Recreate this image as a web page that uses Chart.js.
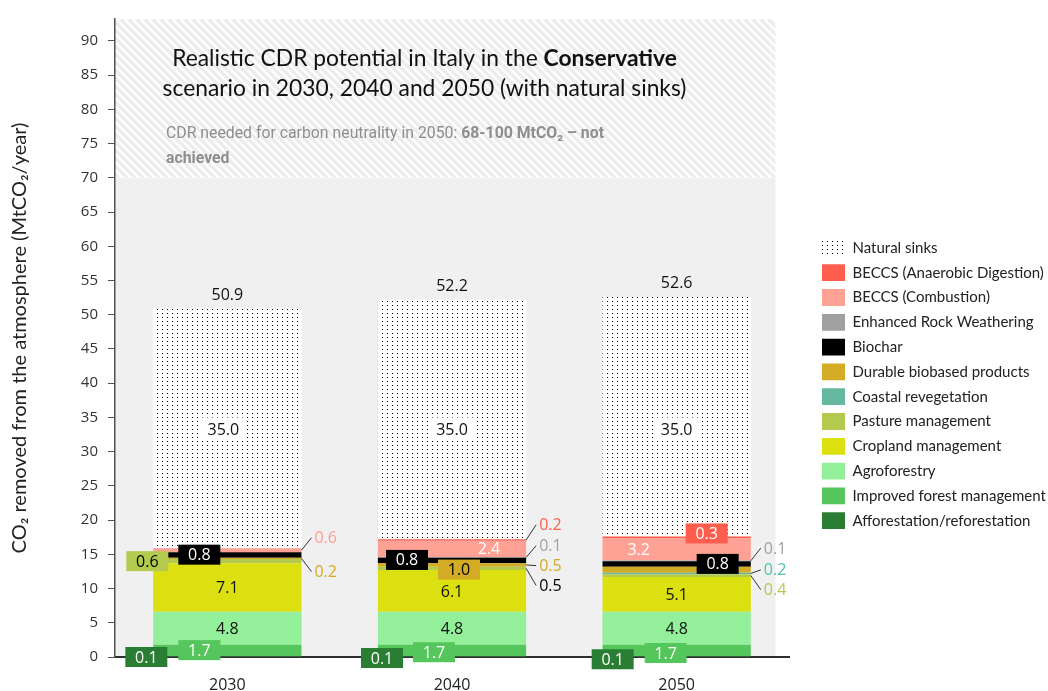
<!DOCTYPE html>
<html><head><meta charset="utf-8">
<script src="https://cdn.jsdelivr.net/npm/chart.js@4.4.1/dist/chart.umd.min.js"></script>
<style>html,body{margin:0;padding:0;background:#fff;}#wrap{width:1048px;height:691px;position:relative;}</style>
</head><body><div id="wrap"><canvas id="c" width="1048" height="691"></canvas></div>
<script>
// ---------------- DATA ----------------
const years = ['2030', '2040', '2050'];
const afforestation = [0.1, 0.1, 0.1];
const improvedForest = [1.7, 1.7, 1.7];
const agroforestry = [4.8, 4.8, 4.8];
const cropland = [7.1, 6.1, 5.1];
const pasture = [0.6, 0.5, 0.4];
const coastal = [0, 0, 0.2];
const durable = [0.2, 0.5, 0.9];
const biochar = [0.8, 0.8, 0.8];
const rockWeathering = [0, 0.1, 0.1];
const beccsCombustion = [0.6, 2.4, 3.2];
const beccsAnaerobic = [0, 0.2, 0.3];
const naturalSinks = [35.0, 35.0, 35.0];
const totals = [50.9, 52.2, 52.6];
const durableBoxValue2040 = 1.0;
const yTickValues = [0, 5, 10, 15, 20, 25, 30, 35, 40, 45, 50, 55, 60, 65, 70, 75, 80, 85, 90];
const targetBand = 70;

const titleLines = [
  [{t: 'Realistic CDR potential in Italy in the ', b: false}, {t: 'Conservative', b: true}],
  [{t: 'scenario in 2030, 2040 and 2050 (with natural sinks)', b: false}]
];
const noteLines = [
  [{t: 'CDR needed for carbon neutrality in 2050: ', b: false}, {t: '68-100 MtCO\u2082 \u2013 not', b: true}],
  [{t: 'achieved', b: true}]
];
const yTitle = 'CO\u2082 removed from the atmosphere (MtCO\u2082/year)';

// ---------------- STYLE ----------------
const COL = {
  affor: '#2A7E34', ifm: '#55C65B', agro: '#93EF99', crop: '#DCE011', pasture: '#B3CA4F',
  coastal: '#66B9A0', durable: '#D4AB24', biochar: '#000000', erw: '#A0A0A0',
  comb: '#FFA194', ad: '#FF5E4E'
};

function dotPattern() {
  const c = document.createElement('canvas');
  c.width = 5; c.height = 4;
  const g = c.getContext('2d');
  g.fillStyle = '#ffffff'; g.fillRect(0, 0, 5, 4);
  g.fillStyle = '#000000'; g.fillRect(2, 1, 1, 1);
  return g.createPattern(c, 'repeat');
}

const series = [
  {id: 'affor', label: 'Afforestation/reforestation', data: afforestation, color: COL.affor},
  {id: 'ifm', label: 'Improved forest management', data: improvedForest, color: COL.ifm},
  {id: 'agro', label: 'Agroforestry', data: agroforestry, color: COL.agro},
  {id: 'crop', label: 'Cropland management', data: cropland, color: COL.crop},
  {id: 'pasture', label: 'Pasture management', data: pasture, color: COL.pasture},
  {id: 'coastal', label: 'Coastal revegetation', data: coastal, color: COL.coastal},
  {id: 'durable', label: 'Durable biobased products', data: durable, color: COL.durable},
  {id: 'biochar', label: 'Biochar', data: biochar, color: COL.biochar},
  {id: 'erw', label: 'Enhanced Rock Weathering', data: rockWeathering, color: COL.erw},
  {id: 'comb', label: 'BECCS (Combustion)', data: beccsCombustion, color: COL.comb},
  {id: 'ad', label: 'BECCS (Anaerobic Digestion)', data: beccsAnaerobic, color: COL.ad},
  {id: 'nat', label: 'Natural sinks', data: naturalSinks, color: dotPattern()}
];

// label placement (dx in px from bar centre, y in axis units)
const labelLayout = [
  {s: 'affor', yr: 0, kind: 'box', dx: -81, y: 0.0, fg: '#fff'},
  {s: 'ifm', yr: 0, kind: 'box', dx: -28, y: 1.0, fg: '#fff'},
  {s: 'agro', yr: 0, kind: 'mid'},
  {s: 'crop', yr: 0, kind: 'mid'},
  {s: 'pasture', yr: 0, kind: 'box', dx: -80, y: 14.0, fg: '#000'},
  {s: 'biochar', yr: 0, kind: 'box', dx: -28, y: 14.95, fg: '#fff'},
  {s: 'durable', yr: 0, kind: 'out', y: 12.48, fg: '#D4AB24'},
  {s: 'comb', yr: 0, kind: 'out', y: 17.42, fg: '#FF9E90'},
  {s: 'nat', yr: 0, kind: 'mid', y: 33.3, dx: -4, bg: '#fff'},

  {s: 'affor', yr: 1, kind: 'box', dx: -70, y: -0.15, fg: '#fff'},
  {s: 'ifm', yr: 1, kind: 'box', dx: -18, y: 0.7, fg: '#fff'},
  {s: 'agro', yr: 1, kind: 'mid'},
  {s: 'crop', yr: 1, kind: 'mid'},
  {s: 'pasture', yr: 1, kind: 'out', y: 10.45, fg: '#000'},
  {s: 'durable', yr: 1, kind: 'out', y: 13.35, fg: '#D4AB24'},
  {s: 'durable', yr: 1, kind: 'box', dx: 7, y: 12.77, fg: '#000', value: durableBoxValue2040},
  {s: 'biochar', yr: 1, kind: 'box', dx: -45, y: 14.18, fg: '#fff'},
  {s: 'erw', yr: 1, kind: 'out', y: 16.26, fg: '#A0A0A0'},
  {s: 'comb', yr: 1, kind: 'mid', dx: 37, fg: '#fff'},
  {s: 'ad', yr: 1, kind: 'out', y: 19.31, fg: '#FF5E4E'},
  {s: 'nat', yr: 1, kind: 'mid', y: 33.3, bg: '#fff'},

  {s: 'affor', yr: 2, kind: 'box', dx: -64, y: -0.33, fg: '#fff'},
  {s: 'ifm', yr: 2, kind: 'box', dx: -11, y: 0.58, fg: '#fff'},
  {s: 'agro', yr: 2, kind: 'mid'},
  {s: 'crop', yr: 2, kind: 'mid'},
  {s: 'pasture', yr: 2, kind: 'out', y: 9.83, fg: '#B3CA4F'},
  {s: 'coastal', yr: 2, kind: 'out', y: 12.73, fg: '#4CC4AE'},
  {s: 'biochar', yr: 2, kind: 'box', dx: 41, y: 13.6, fg: '#fff'},
  {s: 'erw', yr: 2, kind: 'out', y: 15.92, fg: '#A0A0A0'},
  {s: 'comb', yr: 2, kind: 'mid', dx: -38, fg: '#fff'},
  {s: 'ad', yr: 2, kind: 'box', dx: 30, y: 18.05, fg: '#fff'},
  {s: 'nat', yr: 2, kind: 'mid', y: 33.3, bg: '#fff'}
];

const TARGET_RIGHT = 789;
const LEGEND_X = 822, LEGEND_Y = 239.5;

// ---------------- PLUGINS ----------------
function runsWidth(ctx, runs, size, fam) {
  let w = 0;
  runs.forEach(r => { ctx.font = (r.b ? 'bold ' : '') + size + 'px ' + fam; w += ctx.measureText(r.t).width; });
  return w;
}
function drawRuns(ctx, runs, x, y, size, fam, color, sx) {
  sx = sx || 1;
  ctx.save();
  ctx.translate(x, y); ctx.scale(sx, 1);
  ctx.fillStyle = color; ctx.textAlign = 'left'; ctx.textBaseline = 'middle';
  let cx = 0;
  runs.forEach(r => {
    ctx.font = (r.b ? 'bold ' : '') + size + 'px ' + fam;
    ctx.fillText(r.t, cx, 0);
    cx += ctx.measureText(r.t).width;
  });
  ctx.restore();
}

const backdrop = {
  id: 'backdrop',
  beforeDraw(chart) {
    const {ctx, chartArea: a, scales: {x, y}} = chart;
    const catW = (a.right - a.left) / years.length;
    const right = x.getPixelForValue(years.length - 1) + catW * 0.44;
    const y70 = y.getPixelForValue(targetBand);
    ctx.save();
    ctx.fillStyle = '#F0F0F0';
    ctx.fillRect(a.left, y70, right - a.left, a.bottom - y70);
    // hatched band
    ctx.beginPath(); ctx.rect(a.left, a.top, right - a.left, y70 - a.top); ctx.clip();
    ctx.fillStyle = '#FFFFFF'; ctx.fillRect(a.left, a.top, right - a.left, y70 - a.top);
    ctx.strokeStyle = '#EDEDED'; ctx.lineWidth = 3.5;
    const h = y70 - a.top;
    for (let s = a.left - h - 20; s < right + 20; s += 8) {
      ctx.beginPath(); ctx.moveTo(s, a.top); ctx.lineTo(s + h, y70); ctx.stroke();
    }
    ctx.restore();
    // titles
    ctx.save();
    const tf = '"Lato", sans-serif';
    const tSize = 21 * 505 / runsWidth(ctx, titleLines[0], 21, tf);
    const cx = a.left + 309.5;
    titleLines.forEach((ln, i) => {
      const w = runsWidth(ctx, ln, tSize, tf);
      drawRuns(ctx, ln, cx - w / 2, a.top + 40 + i * 30, tSize, tf, '#111');
    });
    const nf = '"Roboto", sans-serif';
    const nSize = 16.5;
    const nsx = 438 / runsWidth(ctx, noteLines[0], nSize, nf);
    noteLines.forEach((ln, i) => drawRuns(ctx, ln, a.left + 51, a.top + 115 + i * 25, nSize, nf, '#8E8E8E', nsx));
    ctx.restore();
  }
};

const dataLabels = {
  id: 'dataLabels',
  afterDatasetsDraw(chart) {
    const {ctx, scales: {y}} = chart;
    ctx.save();
    ctx.font = '16px "Open Sans", sans-serif';
    ctx.textBaseline = 'middle';
    labelLayout.forEach(L => {
      const si = series.findIndex(s => s.id === L.s);
      const el = chart.getDatasetMeta(si).data[L.yr];
      const val = L.value !== undefined ? L.value : series[si].data[L.yr];
      const txt = val.toFixed(1);
      const mid = (el.y + el.base) / 2;
      const barRight = el.x + el.width / 2;
      if (L.kind === 'mid') {
        const cx = el.x + (L.dx || 0);
        const cy = L.y !== undefined ? y.getPixelForValue(L.y) : mid;
        if (L.bg) { ctx.fillStyle = L.bg; ctx.fillRect(cx - 23, cy - 11.5, 46, 23); }
        ctx.fillStyle = L.fg || '#111'; ctx.textAlign = 'center';
        ctx.fillText(txt, cx, cy + 1);
      } else if (L.kind === 'box') {
        const cx = el.x + L.dx, cy = y.getPixelForValue(L.y);
        ctx.fillStyle = series[si].color; ctx.fillRect(cx - 21, cy - 10, 42, 20);
        ctx.fillStyle = L.fg; ctx.textAlign = 'center';
        ctx.fillText(txt, cx, cy + 1);
      } else if (L.kind === 'out') {
        const ly = y.getPixelForValue(L.y);
        ctx.strokeStyle = '#333'; ctx.lineWidth = 1;
        ctx.beginPath(); ctx.moveTo(barRight, mid); ctx.lineTo(barRight + 10, ly); ctx.stroke();
        ctx.fillStyle = L.fg; ctx.textAlign = 'left';
        ctx.fillText(txt, barRight + 13, ly + 1);
      }
    });
    // totals
    const top = chart.getDatasetMeta(series.length - 1);
    totals.forEach((t, i) => {
      const el = top.data[i];
      ctx.fillStyle = '#111'; ctx.textAlign = 'center';
      ctx.fillText(t.toFixed(1), el.x, el.y - 13);
    });
    ctx.restore();
  }
};

const legendPlace = {
  id: 'legendPlace',
  afterLayout(chart) {
    const lg = chart.legend; if (!lg) return;
    const pad = lg.options.labels.padding;
    const w = lg.width, h = lg.height;
    lg.left = LEGEND_X - pad; lg.right = lg.left + w;
    lg.top = LEGEND_Y - pad; lg.bottom = lg.top + h;
  }
};

// ---------------- CHART ----------------
const chart = new Chart(document.getElementById('c'), {
  type: 'bar',
  data: {
    labels: years,
    datasets: series.map(s => ({
      label: s.label, data: s.data, backgroundColor: s.color, borderWidth: 0,
      barPercentage: 0.66, categoryPercentage: 1.0
    }))
  },
  options: {
    responsive: false, animation: false,
    layout: {padding: {top: 15, right: 15, bottom: 0, left: 0}},
    plugins: {
      tooltip: {enabled: false},
      legend: {
        position: 'right', align: 'start', reverse: true,
        labels: {boxWidth: 23, boxHeight: 16.8, padding: 8, color: '#222',
          font: {family: 'Lato', size: 15}}
      }
    },
    scales: {
      x: {
        stacked: true,
        grid: {display: false, drawTicks: false},
        border: {display: true, color: '#2E2E2E', width: 2},
        ticks: {padding: 19, color: '#222', font: {family: 'Open Sans', size: 16}},
        afterFit: s => { s.height = 34; }
      },
      y: {
        stacked: true, min: 0, max: 93.2,
        afterBuildTicks: s => { s.ticks = yTickValues.map(v => ({value: v})); },
        grid: {drawOnChartArea: false, drawTicks: true, tickLength: 7, color: '#505050', lineWidth: 1},
        border: {display: true, color: '#505050', width: 1.5},
        ticks: {padding: 10, color: '#333', font: {family: 'Open Sans', size: 15}},
        title: {display: true, text: yTitle, color: '#222', padding: {top: 8, bottom: 0},
          font: {family: 'Lato', size: 20}},
        afterFit: s => { s.width = 115; }
      }
    }
  },
  plugins: [backdrop, dataLabels, legendPlace]
});
const diff = chart.chartArea.right - TARGET_RIGHT;
if (Math.abs(diff) > 0.5) {
  chart.options.layout.padding.right += diff;
  chart.update('none');
}
</script></body></html>
